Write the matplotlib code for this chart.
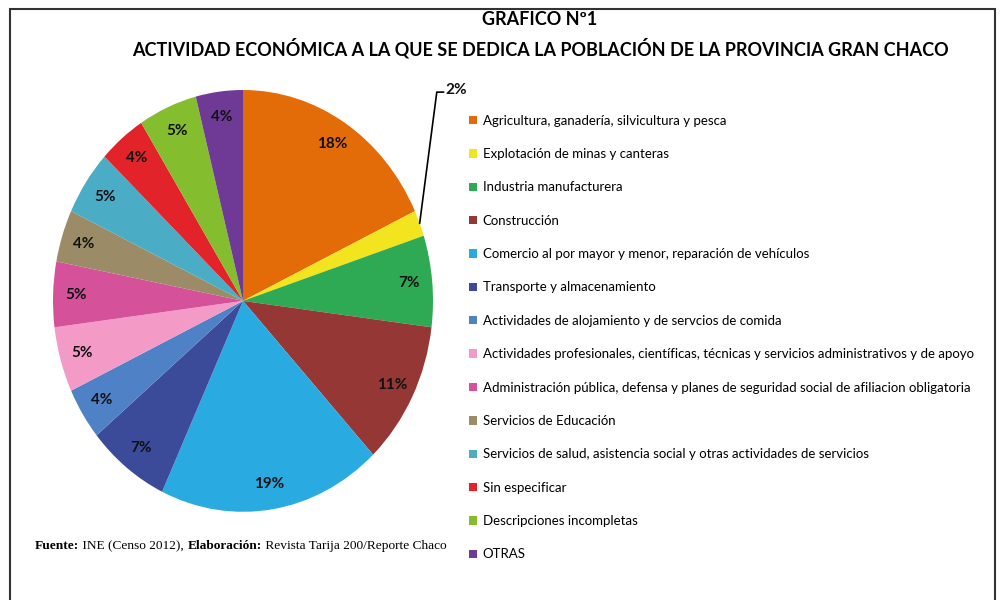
import matplotlib
matplotlib.use('Agg')
from matplotlib import pyplot as plt
from matplotlib.patches import Rectangle
import numpy as np

# datos del grafico
categorias = [
    'Agricultura, ganadería, silvicultura y pesca',
    'Explotación de minas y canteras',
    'Industria manufacturera',
    'Construcción',
    'Comercio al por mayor y menor, reparación de vehículos',
    'Transporte y almacenamiento',
    'Actividades de alojamiento y de servcios de comida',
    'Actividades profesionales, científicas, técnicas y servicios administrativos y de apoyo',
    'Administración pública, defensa y planes de seguridad social de afiliacion obligatoria',
    'Servicios de Educación',
    'Servicios de salud, asistencia social y otras actividades de servicios',
    'Sin especificar',
    'Descripciones incompletas',
    'OTRAS',
]
porcentajes = [18, 2, 7, 11, 19, 7, 4, 5, 5, 4, 5, 4, 5, 4]
colores = ['#E36C09', '#F2E41E', '#2EAA55', '#953735', '#29ABE2', '#3C4A9A',
           '#4F81C7', '#F39BC6', '#D5529A', '#9B8B66', '#4BACC6', '#E3232A',
           '#84BD2E', '#6E3A96']

plt.rcParams['font.family'] = ['Lato', 'DejaVu Sans']

fig = plt.figure(figsize=(10, 6), dpi=100)

# marco
fig.patches.append(Rectangle((0.010, -0.05), 0.985, 1.035, transform=fig.transFigure,
                             fill=False, edgecolor='#333333', linewidth=1.5))

fig.text(0.54, 0.968, 'GRAFICO Nº1', ha='center', va='center',
         fontsize=13, fontweight='bold')
fig.text(0.54, 0.920, 'ACTIVIDAD ECONÓMICA A LA QUE SE DEDICA LA POBLACIÓN DE LA PROVINCIA GRAN CHACO',
         ha='center', va='center', fontsize=13, fontweight='bold')

ax = fig.add_axes([0.053, 0.147, 0.380, 0.703])
wedges, textos = ax.pie(porcentajes, colors=colores, startangle=90, counterclock=False,
                        wedgeprops=dict(linewidth=0))
ax.set_aspect('auto')
ax.set_xlim(-1, 1)
ax.set_ylim(-1, 1)
ax.axis('off')

for w, p in zip(wedges, porcentajes):
    ang = np.deg2rad((w.theta1 + w.theta2) / 2)
    if p < 3:
        x0, y0 = np.cos(ang), np.sin(ang)
        ax.plot([x0, 1.02, 1.055], [y0, 0.99, 0.99], color='black', lw=1.2, clip_on=False)
        ax.text(1.065, 1.0, f'{p}%', ha='left', va='center', fontsize=11,
                fontweight='bold', color='#111111')
        continue
    r = 0.88
    ax.text(r * np.cos(ang), r * np.sin(ang), f'{p}%', ha='center', va='center',
            fontsize=11, fontweight='bold', color='#111111')

fig.legend(wedges, categorias, loc='upper left', bbox_to_anchor=(0.469, 0.809),
           frameon=False, fontsize=9.5, labelspacing=1.62, handlelength=0.6,
           handleheight=0.6, handletextpad=0.45, borderaxespad=0, borderpad=0)

# fuente
t1 = fig.text(0.035, 0.085, 'Fuente:', family='Liberation Serif', fontweight='bold',
              fontsize=9.6, va='baseline')
t2 = ax.annotate(' INE (Censo 2012), ', xy=(1, 0), xycoords=t1, family='Liberation Serif',
                 fontsize=9.6, va='bottom', annotation_clip=False)
t3 = ax.annotate('Elaboración:', xy=(1, 0), xycoords=t2, family='Liberation Serif',
                 fontweight='bold', fontsize=9.6, va='bottom', annotation_clip=False)
ax.annotate(' Revista Tarija 200/Reporte Chaco', xy=(1, 0), xycoords=t3,
            family='Liberation Serif', fontsize=9.6, va='bottom', annotation_clip=False)

fig.savefig('out.png', dpi=100)
